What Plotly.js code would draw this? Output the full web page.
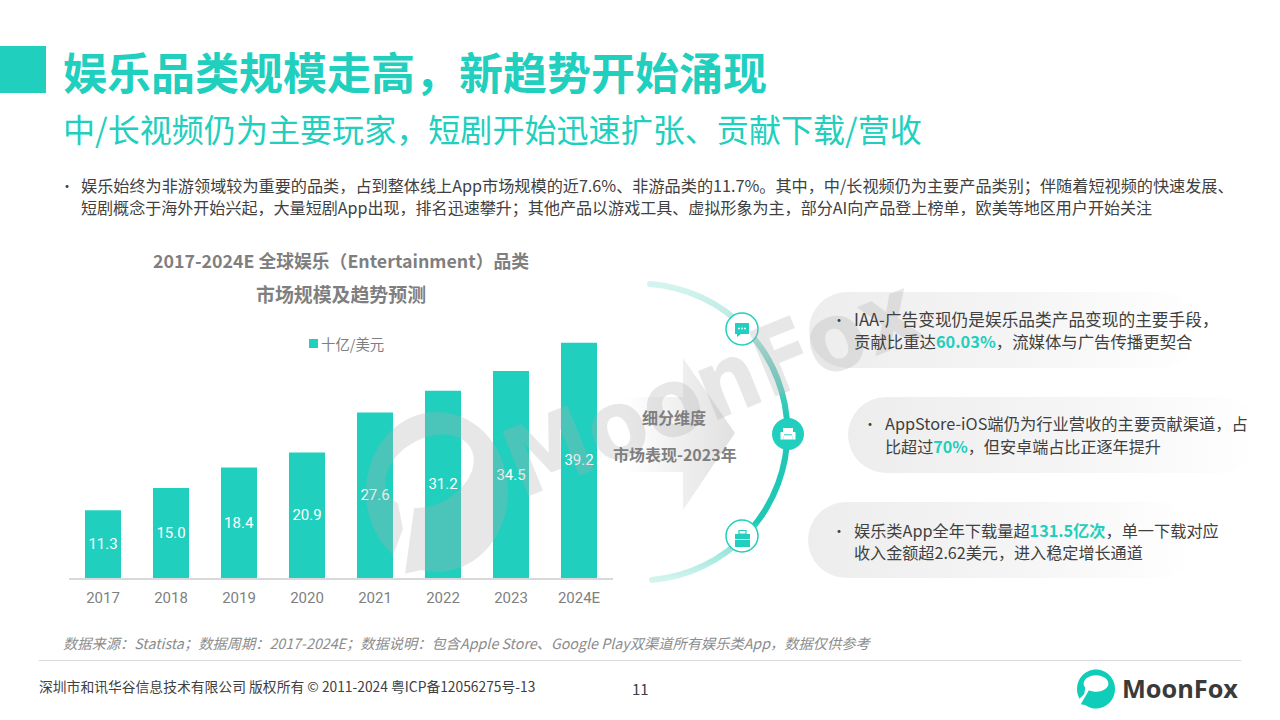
<!DOCTYPE html>
<html>
<head>
<meta charset="utf-8">
<script src="https://cdn.plot.ly/plotly-3.0.1.min.js"></script>
<style>html,body{margin:0;padding:0;background:#fff}#c{width:1280px;height:720px}</style>
</head>
<body>
<div id="c"></div>
<script>
const years = ['2017','2018','2019','2020','2021','2022','2023','2024E'];
const values = [11.3,15.0,18.4,20.9,27.6,31.2,34.5,39.2];
const seriesName = '十亿/美元';
const TEAL = '#20CFBD';
const CJK = '"Noto Sans CJK SC","Noto Sans",sans-serif';
const W = 1280, H = 720;
const px = x => x / W, py = y => 1 - y / H;
const hi = s => `<b><span style="color:${TEAL}">${s}</span></b>`;

const annotations = [], shapes = [];
function T(x, y, text, o = {}) {
  const left = !o.anchor;
  annotations.push({xref:'paper', yref:'paper', x:px(left ? x-2 : x), y:py(y-1), text, showarrow:false, borderpad:0,
    xanchor:o.anchor||'left', yanchor:'middle', align:o.anchor==='center'?'center':'left',
    textangle:o.angle||0,
    font:{family:o.family||CJK, size:o.size||15, color:o.color||'#404040', weight:o.weight||'normal', style:o.style||'normal'}});
}
function R(x0,y0,x1,y1,fill,layer){ shapes.push({type:'rect',xref:'paper',yref:'paper',x0:px(x0),x1:px(x1),y0:py(y0),y1:py(y1),fillcolor:fill,line:{width:0},layer:layer||'above'}); }
function C(cx,cy,r,fill,line){ shapes.push({type:'circle',xref:'paper',yref:'paper',x0:px(cx-r),x1:px(cx+r),y0:py(cy-r),y1:py(cy+r),fillcolor:fill,line:line||{width:0},layer:'above'}); }
function PATH(pts,fill,line){
  const d = pts.map((p,i)=>(i?'L':'M')+px(p[0]).toFixed(5)+','+py(p[1]).toFixed(5)).join(' ')+' Z';
  shapes.push({type:'path',xref:'paper',yref:'paper',path:d,fillcolor:fill,line:line||{width:0},layer:'above'});
}
function logo(cx,cy,rx,ry,rot,fill){
  const u=[];
  const rad=Math.PI/180;
  for(let i=0;i<=70;i++){const a=(150+(485-150)*i/70)*rad;u.push([Math.cos(a),Math.sin(a)]);}
  u.push([-0.8,0.78]);
  for(let i=0;i<=60;i++){const a=(125+(-210-125)*i/60)*rad;u.push([0.65*Math.cos(a),-0.28+0.42*Math.sin(a)]);}
  u.push([-0.62,0.25]);
  const c=Math.cos(rot*rad),s=Math.sin(rot*rad);
  PATH(u.map(p=>[cx+rx*(p[0]*c-p[1]*s),cy+ry*(p[0]*s+p[1]*c)]),fill);
}

// Header
R(0,46,46,93,TEAL);
T(64,72,'娱乐品类规模走高，新趋势开始涌现',{size:44,color:TEAL,weight:700});
T(64,129,'中/长视频仍为主要玩家，短剧开始迅速扩张、贡献下载/营收',{size:32.07,color:TEAL});

// Intro
T(61,186,'•',{size:14});
T(82,186,'娱乐始终为非游领域较为重要的品类，占到整体线上App市场规模的近7.6%、非游品类的11.7%。其中，中/长视频仍为主要产品类别；伴随着短视频的快速发展、',{size:16.15});
T(82,208,'短剧概念于海外开始兴起，大量短剧App出现，排名迅速攀升；其他产品以游戏工具、虚拟形象为主，部分AI向产品登上榜单，欧美等地区用户开始关注',{size:16.06});

// Watermark
T(711,388,'MoonFox',{size:96,color:'rgba(176,176,176,0.3)',weight:700,anchor:'center',angle:-22,family:'"DejaVu Sans Condensed","DejaVu Sans",sans-serif'});
logo(437,492,71,80,-22,'rgba(176,176,176,0.3)');

// Chart title and legend key
T(341,261,'2017-2024E 全球娱乐（Entertainment）品类',{size:17.8,weight:700,color:'#7F7F7F',anchor:'center'});
T(341,294,'市场规模及趋势预测',{size:18.9,weight:700,color:'#7F7F7F',anchor:'center'});
R(309,339,318,348,TEAL);
T(322,344,seriesName,{size:14.4,color:'#7F7F7F'});

// Middle caption
T(674,418,'细分维度',{size:16,weight:700,color:'#7F7F7F',anchor:'center'});
T(675,455,'市场表现-2023年',{size:16,weight:700,color:'#7F7F7F',anchor:'center'});

// Right-hand list
T(833,320,'•',{size:14});
T(855,320,'IAA-广告变现仍是娱乐品类产品变现的主要手段，',{size:16.7});
T(855,342,'贡献比重达'+hi('60.03%')+'，流媒体与广告传播更契合',{size:16.4});
T(864,424,'•',{size:14});
T(886,424,'AppStore-iOS端仍为行业营收的主要贡献渠道，占',{size:16.3});
T(886,447,'比超过'+hi('70%')+'，但安卓端占比正逐年提升',{size:16.1});
T(833,531,'•',{size:14});
T(855,531,'娱乐类App全年下载量超'+hi('131.5亿次')+'，单一下载对应',{size:16.2});
T(855,553,'收入金额超2.62美元，进入稳定增长通道',{size:16.1});

// Timeline nodes and icons
const ring = {color:TEAL,width:1.5};
C(742,329,16,'#fff',ring);
R(735,323,749,334,TEAL);
PATH([[737,334],[741,334],[737,337]],TEAL);
C(739,328.5,0.9,'#fff'); C(742,328.5,0.9,'#fff'); C(745,328.5,0.9,'#fff');
C(788,434,16,TEAL);
R(783,428,793,436,'#fff'); R(780.5,432,783.5,439.5,'#fff'); R(792.5,432,795.5,439.5,'#fff'); R(783.5,435,792.5,439.5,'#fff'); R(784,434.3,792,435.3,TEAL);
C(742,536,16,'#fff',ring);
R(735,534,750,547,TEAL);
shapes.push({type:'rect',xref:'paper',yref:'paper',x0:px(739),x1:px(746),y0:py(530.5),y1:py(534),fillcolor:'rgba(0,0,0,0)',line:{color:TEAL,width:1.2},layer:'above'});
R(735,539,750,539.8,'#fff');

// Footer
T(64,643,'数据来源：Statista；数据周期：2017-2024E；数据说明：包含Apple Store、Google Play双渠道所有娱乐类App，数据仅供参考',{size:14.25,color:'#8C8C8C',style:'italic'});
R(39,660,1241,661,'#D9D9D9');
T(40,687,'深圳市和讯华谷信息技术有限公司 版权所有 © 2011-2024 粤ICP备12056275号-13',{size:13.8,color:'#404040'});
T(640,689,'11',{size:15,color:'#404040',anchor:'center'});
logo(1096,689,19,19.5,0,'#0FCDB9');
T(1123,689,'MoonFox',{size:25.3,weight:700,color:'#3A3A3A',family:'"Open Sans",sans-serif'});

// Gradient decoration
const pill=(id,x,y,w,h)=>`<linearGradient id="${id}" x1="0" x2="1" y1="0" y2="0"><stop offset="0" stop-color="#EDEDED"/><stop offset="0.55" stop-color="#F5F5F5"/><stop offset="1" stop-color="#FFFFFF"/></linearGradient><rect x="${x}" y="${y}" width="${w}" height="${h}" rx="${h/2}" fill="url(#${id})"/>`;
const svg=`<svg xmlns="http://www.w3.org/2000/svg" width="1280" height="720" viewBox="0 0 1280 720">
<defs>
<linearGradient id="arc" gradientUnits="userSpaceOnUse" x1="0" x2="0" y1="283" y2="581">
<stop offset="0" stop-color="#D6F4EF"/><stop offset="0.16" stop-color="#B3E8DF"/><stop offset="0.27" stop-color="#7AD3C7"/><stop offset="0.45" stop-color="#1FC8B5"/><stop offset="0.8" stop-color="#1FC8B5"/><stop offset="0.86" stop-color="#86E0D4"/><stop offset="1" stop-color="#D6F4EF"/>
</linearGradient>
<linearGradient id="arrow" gradientUnits="userSpaceOnUse" x1="625" x2="736" y1="0" y2="0"><stop offset="0" stop-color="#FFFFFF"/><stop offset="1" stop-color="#E0E0E0"/></linearGradient>
</defs>
${pill('p1',809,292,392,76)}${pill('p2',848,397,412,76)}${pill('p3',808,502,388,76)}
<path d="M612 397 H683 V358 L735 433 L683 510 V472 H612 Z" fill="url(#arrow)"/>
<path d="M650 284 A148.5 148.5 0 0 1 652 580" fill="none" stroke="url(#arc)" stroke-width="6" stroke-linecap="round"/>
</svg>`;

const trace = {
  type:'bar', x:years, y:values, name:seriesName,
  marker:{color:TEAL, line:{width:0}},
  text:values.map(v=>v.toFixed(1)), textposition:'inside', insidetextanchor:'middle', textangle:0,
  insidetextfont:{family:'Roboto,sans-serif', size:15, color:'#fff'},
  cliponaxis:false, hoverinfo:'skip'
};
const layout = {
  width:W, height:H, margin:{l:0,r:0,t:0,b:0,pad:0,autoexpand:false},
  paper_bgcolor:'rgba(0,0,0,0)', plot_bgcolor:'rgba(0,0,0,0)', showlegend:false, bargap:0.47,
  xaxis:{domain:[69/W,613/W], type:'category', categoryorder:'array', categoryarray:years, fixedrange:true,
    showline:true, linecolor:'#D9D9D9', linewidth:1.5, ticks:'', showgrid:false, zeroline:false, ticklabelstandoff:5,
    tickfont:{family:'Roboto,sans-serif', size:15, color:'#7F7F7F'}, automargin:false, anchor:'y'},
  yaxis:{domain:[(H-578)/H,(H-338)/H], range:[0,40], visible:false, fixedrange:true, anchor:'x'},
  images:[{source:'data:image/svg+xml;charset=utf-8,'+encodeURIComponent(svg), xref:'paper', yref:'paper', x:0, y:1, sizex:1, sizey:1, sizing:'stretch', xanchor:'left', yanchor:'top', layer:'below'}],
  shapes, annotations
};
Plotly.newPlot('c',[trace],layout,{displayModeBar:false,staticPlot:true,responsive:false});
</script>
</body>
</html>
